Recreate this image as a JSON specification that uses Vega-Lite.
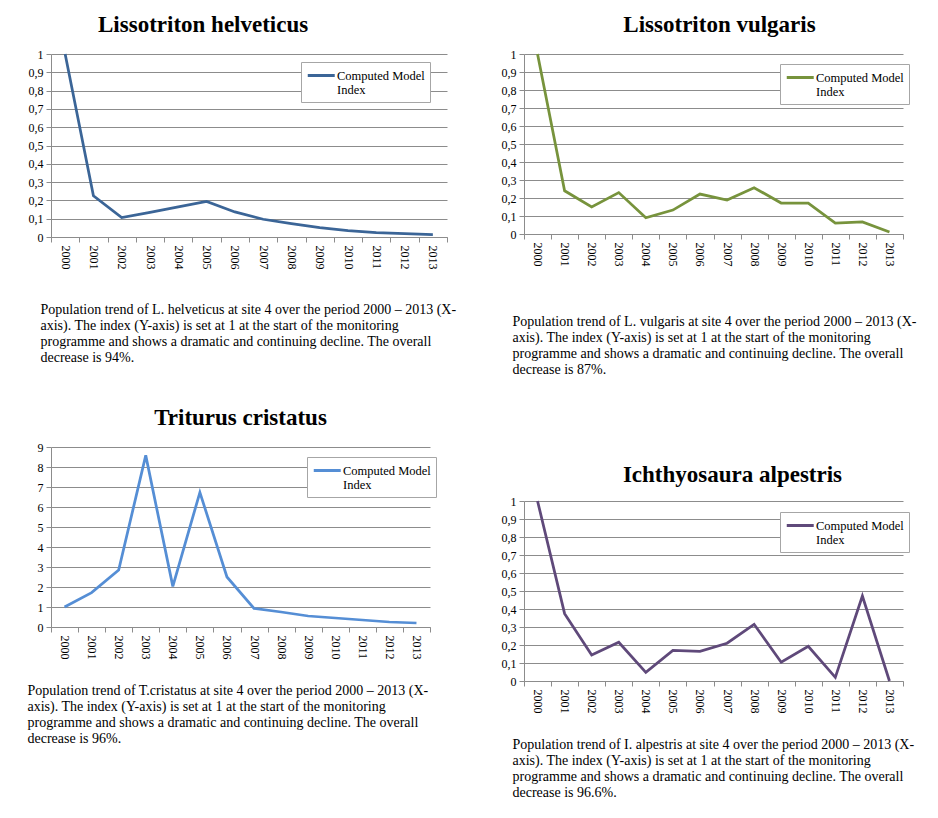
{
  "$schema": "https://vega.github.io/schema/vega-lite/v6.json",
  "background": "white",
  "padding": {"left": 27, "top": 14, "right": 5, "bottom": 5},
  "config": {
    "view": {"stroke": null},
    "font": "Liberation Serif",
    "axis": {"labelColor": "black", "labelFontSize": 12, "labelFont": "Liberation Serif", "domainColor": "#8c8c8c", "tickColor": "#8c8c8c", "gridColor": "#8c8c8c"},
    "legend": {
      "orient": "none", "strokeColor": "#a6a6a6", "padding": 5, "fillColor": "white",
      "symbolType": "M-1,0L3,0", "symbolStrokeWidth": 3, "symbolSize": 182, "symbolOffset": 0,
      "labelFontSize": 12.5, "labelFont": "Liberation Serif", "labelColor": "black",
      "labelLimit": 0, "labelOffset": 14, "labelBaseline": "middle"
    },
    "title": {"font": "Liberation Serif", "fontSize": 23, "fontWeight": "bold", "color": "black", "frame": "group"}
  },
  "datasets": {
    "helveticus": [
      {"year": "2000", "index": 1}, {"year": "2001", "index": 0.225}, {"year": "2002", "index": 0.106},
      {"year": "2003", "index": 0.135}, {"year": "2004", "index": 0.165}, {"year": "2005", "index": 0.194},
      {"year": "2006", "index": 0.137}, {"year": "2007", "index": 0.097}, {"year": "2008", "index": 0.073},
      {"year": "2009", "index": 0.051}, {"year": "2010", "index": 0.035}, {"year": "2011", "index": 0.024},
      {"year": "2012", "index": 0.018}, {"year": "2013", "index": 0.013}
    ],
    "vulgaris": [
      {"year": "2000", "index": 1}, {"year": "2001", "index": 0.24}, {"year": "2002", "index": 0.15},
      {"year": "2003", "index": 0.23}, {"year": "2004", "index": 0.09}, {"year": "2005", "index": 0.133},
      {"year": "2006", "index": 0.222}, {"year": "2007", "index": 0.189}, {"year": "2008", "index": 0.257},
      {"year": "2009", "index": 0.172}, {"year": "2010", "index": 0.172}, {"year": "2011", "index": 0.061},
      {"year": "2012", "index": 0.067}, {"year": "2013", "index": 0.011}
    ],
    "cristatus": [
      {"year": "2000", "index": 1.0}, {"year": "2001", "index": 1.72}, {"year": "2002", "index": 2.85},
      {"year": "2003", "index": 8.58}, {"year": "2004", "index": 2.03}, {"year": "2005", "index": 6.73},
      {"year": "2006", "index": 2.5}, {"year": "2007", "index": 0.93}, {"year": "2008", "index": 0.75},
      {"year": "2009", "index": 0.55}, {"year": "2010", "index": 0.45}, {"year": "2011", "index": 0.35},
      {"year": "2012", "index": 0.25}, {"year": "2013", "index": 0.2}
    ],
    "alpestris": [
      {"year": "2000", "index": 1}, {"year": "2001", "index": 0.374}, {"year": "2002", "index": 0.144},
      {"year": "2003", "index": 0.215}, {"year": "2004", "index": 0.048}, {"year": "2005", "index": 0.17},
      {"year": "2006", "index": 0.165}, {"year": "2007", "index": 0.21}, {"year": "2008", "index": 0.315},
      {"year": "2009", "index": 0.104}, {"year": "2010", "index": 0.193}, {"year": "2011", "index": 0.02},
      {"year": "2012", "index": 0.472}, {"year": "2013", "index": 0}
    ]
  },
  "resolve": {"scale": {"color": "independent", "y": "independent", "x": "independent"}, "legend": {"color": "independent"}},
  "spacing": 45,
  "hconcat": [
    {
      "spacing": 43,
      "resolve": {"scale": {"color": "independent", "y": "independent", "x": "independent"}, "legend": {"color": "independent"}},
      "vconcat": [
        {
          "width": 396, "height": 183,
          "title": {"text": "Lissotriton helveticus", "anchor": "start", "dx": 47, "offset": 11},
          "data": {"name": "helveticus"},
          "mark": {"type": "line", "strokeWidth": 2.75},
          "encoding": {
            "x": {"field": "year", "type": "ordinal", "scale": {"type": "band", "paddingInner": 0, "paddingOuter": 0}, "bandPosition": 0.5,
              "axis": {"title": ["Population trend of L. helveticus at site 4 over the period 2000 – 2013 (X-", "axis). The index (Y-axis) is set at 1 at the start of the monitoring", "programme and shows a dramatic and continuing decline. The overall", "decrease is 94%."],
                "labelAngle": 90, "labelAlign": "left", "labelBaseline": "middle", "tickBand": "extent", "grid": false, "tickSize": 5, "labelPadding": 3,
                "titleAnchor": "start", "titleAlign": "left", "titleX": -11, "titleY": 65, "titleBaseline": "top", "titleFontSize": 14, "titleFontWeight": "normal", "titleLineHeight": 16, "titleColor": "black", "titleLimit": 1000, "titleFont": "Liberation Serif"}},
            "y": {"field": "index", "type": "quantitative", "scale": {"domain": [0, 1], "nice": false},
              "axis": {"title": null, "values": [0, 0.1, 0.2, 0.3, 0.4, 0.5, 0.6, 0.7, 0.8, 0.9, 1], "labelExpr": "replace(format(datum.value, '~g'), '.', ',')", "grid": true, "tickSize": 5, "labelPadding": 3}},
            "color": {"datum": "Computed Model Index", "scale": {"range": ["#3B6597"]}, "legend": {"title": null, "legendX": 250, "legendY": 8, "labelExpr": "['Computed Model', 'Index']"}}
          }
        },
        {
          "width": 379, "height": 180,
          "title": {"text": "Triturus cristatus", "anchor": "middle", "offset": 11},
          "data": {"name": "cristatus"},
          "mark": {"type": "line", "strokeWidth": 2.75},
          "encoding": {
            "x": {"field": "year", "type": "ordinal", "scale": {"type": "band", "paddingInner": 0, "paddingOuter": 0}, "bandPosition": 0.5,
              "axis": {"title": ["Population trend of T.cristatus at site 4 over the period 2000 – 2013 (X-", "axis). The index (Y-axis) is set at 1 at the start of the monitoring", "programme and shows a dramatic and continuing decline. The overall", "decrease is 96%."],
                "labelAngle": 90, "labelAlign": "left", "labelBaseline": "middle", "tickBand": "extent", "grid": false, "tickSize": 5, "labelPadding": 3,
                "titleAnchor": "start", "titleAlign": "left", "titleX": -24, "titleY": 56, "titleBaseline": "top", "titleFontSize": 14, "titleFontWeight": "normal", "titleLineHeight": 16, "titleColor": "black", "titleLimit": 1000, "titleFont": "Liberation Serif"}},
            "y": {"field": "index", "type": "quantitative", "scale": {"domain": [0, 9], "nice": false},
              "axis": {"title": null, "values": [0, 1, 2, 3, 4, 5, 6, 7, 8, 9], "grid": true, "tickSize": 5, "labelPadding": 3}},
            "color": {"datum": "Computed Model Index", "scale": {"range": ["#558ED5"]}, "legend": {"title": null, "legendX": 256, "legendY": 10, "labelExpr": "['Computed Model', 'Index']"}}
          }
        }
      ]
    },
    {
      "spacing": 88,
      "resolve": {"scale": {"color": "independent", "y": "independent", "x": "independent"}, "legend": {"color": "independent"}},
      "vconcat": [
        {
          "width": 379, "height": 180,
          "title": {"text": "Lissotriton vulgaris", "anchor": "middle", "dx": 6, "offset": 11},
          "data": {"name": "vulgaris"},
          "mark": {"type": "line", "strokeWidth": 2.75},
          "encoding": {
            "x": {"field": "year", "type": "ordinal", "scale": {"type": "band", "paddingInner": 0, "paddingOuter": 0}, "bandPosition": 0.5,
              "axis": {"title": ["Population trend of L. vulgaris at site 4 over the period 2000 – 2013 (X-", "axis). The index (Y-axis) is set at 1 at the start of the monitoring", "programme and shows a dramatic and continuing decline. The overall", "decrease is 87%."],
                "labelAngle": 90, "labelAlign": "left", "labelBaseline": "middle", "tickBand": "extent", "grid": false, "tickSize": 5, "labelPadding": 3,
                "titleAnchor": "start", "titleAlign": "left", "titleX": -12, "titleY": 80, "titleBaseline": "top", "titleFontSize": 14, "titleFontWeight": "normal", "titleLineHeight": 16, "titleColor": "black", "titleLimit": 1000, "titleFont": "Liberation Serif"}},
            "y": {"field": "index", "type": "quantitative", "scale": {"domain": [0, 1], "nice": false},
              "axis": {"title": null, "values": [0, 0.1, 0.2, 0.3, 0.4, 0.5, 0.6, 0.7, 0.8, 0.9, 1], "labelExpr": "replace(format(datum.value, '~g'), '.', ',')", "grid": true, "tickSize": 5, "labelPadding": 3}},
            "color": {"datum": "Computed Model Index", "scale": {"range": ["#77933C"]}, "legend": {"title": null, "legendX": 256, "legendY": 10, "labelExpr": "['Computed Model', 'Index']"}}
          }
        },
        {
          "width": 379, "height": 180,
          "title": {"text": "Ichthyosaura alpestris", "anchor": "middle", "dx": 19, "offset": 8},
          "data": {"name": "alpestris"},
          "mark": {"type": "line", "strokeWidth": 2.75},
          "encoding": {
            "x": {"field": "year", "type": "ordinal", "scale": {"type": "band", "paddingInner": 0, "paddingOuter": 0}, "bandPosition": 0.5,
              "axis": {"title": ["Population trend of I. alpestris at site 4 over the period 2000 – 2013 (X-", "axis). The index (Y-axis) is set at 1 at the start of the monitoring", "programme and shows a dramatic and continuing decline. The overall", "decrease is 96.6%."],
                "labelAngle": 90, "labelAlign": "left", "labelBaseline": "middle", "tickBand": "extent", "grid": false, "tickSize": 5, "labelPadding": 3,
                "titleAnchor": "start", "titleAlign": "left", "titleX": -12, "titleY": 56, "titleBaseline": "top", "titleFontSize": 14, "titleFontWeight": "normal", "titleLineHeight": 16, "titleColor": "black", "titleLimit": 1000, "titleFont": "Liberation Serif"}},
            "y": {"field": "index", "type": "quantitative", "scale": {"domain": [0, 1], "nice": false},
              "axis": {"title": null, "values": [0, 0.1, 0.2, 0.3, 0.4, 0.5, 0.6, 0.7, 0.8, 0.9, 1], "labelExpr": "replace(format(datum.value, '~g'), '.', ',')", "grid": true, "tickSize": 5, "labelPadding": 3}},
            "color": {"datum": "Computed Model Index", "scale": {"range": ["#5F497A"]}, "legend": {"title": null, "legendX": 256, "legendY": 11, "labelExpr": "['Computed Model', 'Index']"}}
          }
        }
      ]
    }
  ]
}
